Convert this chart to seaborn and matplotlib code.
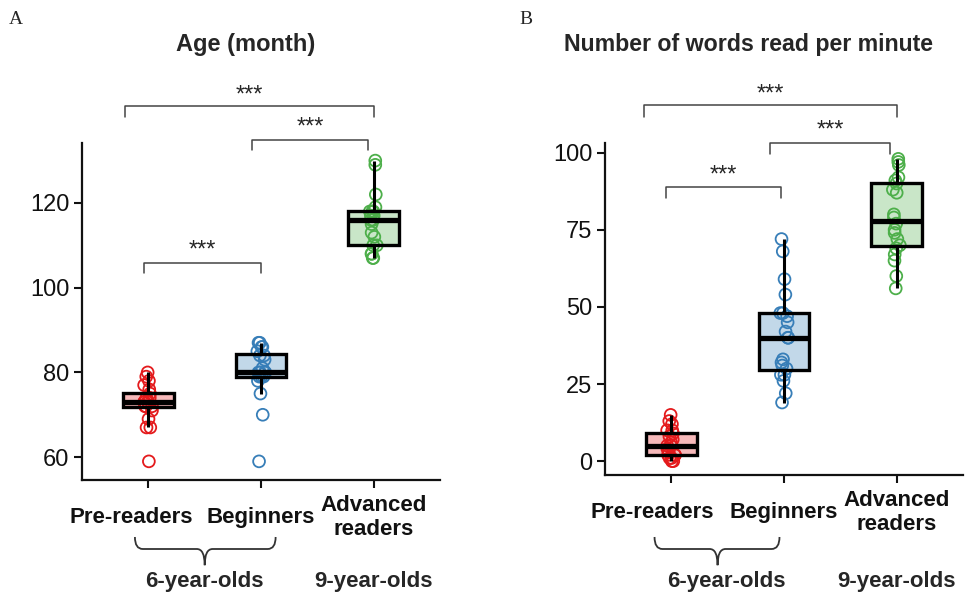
import numpy as np
import pandas as pd
import seaborn as sns
import matplotlib.pyplot as plt
from matplotlib.path import Path
from matplotlib.patches import PathPatch
from matplotlib.colors import to_rgba
from matplotlib.transforms import blended_transform_factory, ScaledTranslation

groups = ["Pre-readers", "Beginners", "Advanced readers"]
tick_labels = ["Pre-readers", "Beginners", "Advanced\nreaders"]
colors = ["#E41A1C", "#377EB8", "#4DAF4A"]

# age in months
age_pre = [59, 67, 67, 69, 71, 72, 72, 72, 73, 73, 73, 73, 74, 74, 75, 76, 77, 78, 79, 80]
age_beg = [59, 70, 75, 78, 79, 79, 79, 80, 80, 80, 80, 81, 83, 84, 84, 85, 86, 86, 87, 87]
age_adv = [107, 107, 108, 108, 110, 110, 112, 113, 115, 116, 116, 117, 117, 118, 118, 118, 119, 122, 129, 130]

# words read per minute
wpm_pre = [0, 0, 1, 1, 2, 2, 2, 3, 4, 5, 5, 6, 7, 8, 9, 10, 10, 12, 13, 15]
wpm_beg = [19, 22, 26, 28, 28, 30, 31, 32, 33, 40, 40, 42, 45, 47, 48, 48, 54, 59, 68, 72]
wpm_adv = [56, 60, 65, 67, 69, 70, 72, 74, 75, 77, 79, 80, 87, 88, 90, 91, 92, 96, 97, 98]

# significance brackets: (x0, x1, y_line, y_tick, y_text)
age_brackets = [(-0.21, 2.0, 143.0, 140.4, 145.4),
                (0.92, 1.95, 134.9, 132.6, 137.8),
                (-0.04, 1.0, 105.9, 103.5, 108.8)]
wpm_brackets = [(-0.24, 2.0, 115.3, 111.7, 118.8),
                (0.88, 1.94, 103.2, 99.7, 107.3),
                (-0.05, 0.97, 89.0, 85.4, 92.6)]

sns.set_style("ticks")
plt.rcParams['font.family'] = ['Liberation Sans', 'DejaVu Sans']


def make_df(a, b, c):
    return pd.DataFrame({
        "group": [groups[0]] * len(a) + [groups[1]] * len(b) + [groups[2]] * len(c),
        "value": a + b + c,
    })


def brace(ax, fig, x0, x1, xm, r):
    tr = blended_transform_factory(ax.transData, fig.transFigure)
    ytop, ymid, ytip = 0.105, 0.085, 0.058
    verts = [(x0, ytop), (x0, ymid), (x0 + r, ymid), (xm - r, ymid), (xm, ymid), (xm, ytip),
             (x1, ytop), (x1, ymid), (x1 - r, ymid), (xm + r, ymid), (xm, ymid), (xm, ytip)]
    codes = [Path.MOVETO, Path.CURVE3, Path.CURVE3, Path.LINETO, Path.CURVE3, Path.CURVE3] * 2
    ax.add_patch(PathPatch(Path(verts, codes), transform=tr, fill=False,
                           edgecolor="#333333", lw=1.3, clip_on=False))


def panel(ax, fig, df, ylim, yticks, brackets, brace_x, text_x, shift_px):
    np.random.seed(3)
    sns.stripplot(data=df, x="group", y="value", hue="group", order=groups,
                  hue_order=groups, palette=colors, jitter=0.04, size=8.5,
                  linewidth=1.3, legend=False, ax=ax)
    for coll, c in zip(ax.collections, colors):
        coll.set_facecolor("none")
        coll.set_edgecolor(c)
        coll.set_zorder(1)
    n_patches = len(ax.patches)
    sns.boxplot(data=df, x="group", y="value", hue="group", order=groups,
                hue_order=groups, palette=colors, width=0.45, showfliers=False,
                showcaps=False, linewidth=2.4, linecolor="black", legend=False,
                medianprops=dict(linewidth=3.8, color="black"),
                whiskerprops=dict(linewidth=2.2, color="black"), ax=ax)
    for p, c in zip(ax.patches[n_patches:], colors):
        p.set_facecolor(to_rgba(c, 0.3))
        p.set_edgecolor("black")
        p.set_zorder(2)
    for ln in ax.lines:
        ln.set_zorder(3)

    ax.set_xlim(-0.59, 2.59)
    ax.set_ylim(*ylim)
    ax.set_yticks(yticks)
    ax.set_xticks([0, 1, 2])
    ax.tick_params(axis="x", pad=21, length=6, width=1.5, colors="#111111")
    ax.tick_params(axis="y", labelsize=17, length=6, width=1.5, pad=3, colors="#111111")
    ax.set_xticklabels(tick_labels, fontweight="bold", fontsize=16, linespacing=1.15)
    for lab in ax.get_xticklabels():
        lab.set_verticalalignment("center")
    # the first label sits a little left of its tick in the original
    first = ax.get_xticklabels()[0]
    first.set_transform(first.get_transform() +
                        ScaledTranslation(shift_px / 100, 0, fig.dpi_scale_trans))
    ax.set_xlabel("")
    ax.set_ylabel("")
    for s in ["left", "bottom"]:
        ax.spines[s].set_linewidth(1.6)
        ax.spines[s].set_color("#111111")
    sns.despine(ax=ax)

    for x0, x1, yl, yt, ys in brackets:
        ax.plot([x0, x0, x1, x1], [yt, yl, yl, yt], color="#444444", lw=1.1, clip_on=False)
        ax.text((x0 + x1) / 2, ys, "***", ha="center", va="center", fontsize=17)

    brace(ax, fig, brace_x[0], brace_x[1], brace_x[2], 0.07)
    tr = blended_transform_factory(ax.transData, fig.transFigure)
    ax.text(text_x, 0.03, "6-year-olds", transform=tr, ha="center", va="center",
            fontweight="bold", fontsize=16)
    ax.text(2, 0.03, "9-year-olds", transform=tr, ha="center", va="center",
            fontweight="bold", fontsize=16)


fig = plt.figure(figsize=(9.69, 6), dpi=100)
ax1 = fig.add_axes([82 / 969, 0.2, 358 / 969, 0.562])
ax2 = fig.add_axes([605 / 969, 0.2083, 358 / 969, 0.5537])

panel(ax1, fig, make_df(age_pre, age_beg, age_adv), (54.6, 134.2),
      [60, 80, 100, 120], age_brackets, (-0.12, 1.13, 0.5), 0.5, -17)
panel(ax2, fig, make_df(wpm_pre, wpm_beg, wpm_adv),
      (-4.5, 103.2), [0, 25, 50, 75, 100], wpm_brackets, (-0.15, 0.96, 0.41), 0.49, -19)

fig.text(246 / 969, 1 - 45 / 600, "Age (month)", ha="center", va="center",
         fontweight="bold", fontsize=17)
fig.text(748 / 969, 1 - 45 / 600, "Number of words read per minute", ha="center",
         va="center", fontweight="bold", fontsize=16.7)

fig.text(9 / 969, 1 - 20 / 600, "A", family="Liberation Serif", fontsize=14, va="center")
fig.text(519 / 969, 1 - 20 / 600, "B", family="Liberation Serif", fontsize=14, va="center")

fig.savefig("out.png", dpi=100)
